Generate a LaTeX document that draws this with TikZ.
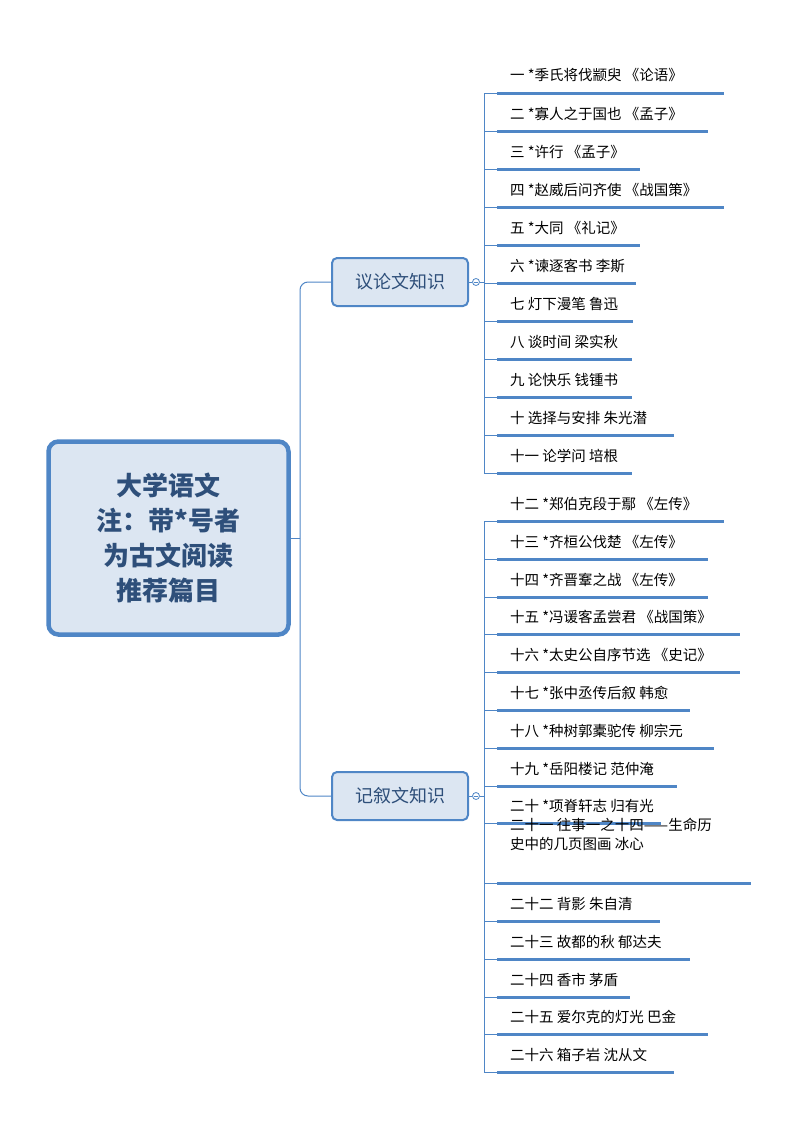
\documentclass[tikz,border=0pt]{standalone}
\usepackage{fontspec}
\setmainfont{Noto Sans CJK SC}
\begin{document}
\begin{tikzpicture}[x=1pt,y=-1pt,
  ln/.style={draw=lblue,line width=1pt},
  ul/.style={draw=lblue,line width=3pt},
  item/.style={anchor=base west,font=\fontsize{14.5}{19}\selectfont,text=black,inner sep=0pt,align=left},
  br/.style={draw=lblue,line width=2pt,fill=bfill,rounded corners=5pt,minimum width=136pt,minimum height=48pt,font=\fontsize{18}{22}\selectfont,text=tcol},
  rootbox/.style={draw=lblue,line width=4.5pt,fill=bfill,rounded corners=10pt,minimum width=240pt,minimum height=193pt,font=\bfseries\fontsize{26}{35}\selectfont,text=tcol,align=center}]
\definecolor{lblue}{HTML}{4F86C6}
\definecolor{bfill}{HTML}{DCE6F2}
\definecolor{tcol}{HTML}{2E4F7A}
\useasboundingbox (0,0) rectangle (800,1132);
\node[rootbox] (root) at (168.5,538) {大学语文\\注：带*号者\\为古文阅读\\推荐篇目};
\node[br] (b1) at (400,282) {议论文知识};
\node[br] (b2) at (400,796) {记叙文知识};
\coordinate (j) at (300,538);
\draw[ln] (root.east) -- (j);
\draw[ln,rounded corners=8pt] (j) |- (b1.west);
\draw[ln,rounded corners=8pt] (j) |- (b2.west);
\node[draw=lblue,fill=white,circle,inner sep=0pt,minimum size=7pt,line width=0.8pt] (c1) at (476,282) {};
\node[draw=lblue,fill=white,circle,inner sep=0pt,minimum size=7pt,line width=0.8pt] (c2) at (476,796) {};
\draw[ln] (b1.east) -- (c1.west);
\draw[ln] (b2.east) -- (c2.west);
\draw[line width=0.7pt,lblue] (c1.center)+(-2,0) -- +(2,0);
\draw[line width=0.7pt,lblue] (c2.center)+(-2,0) -- +(2,0);
\draw[ln] (c1.east) -- (484,282);
\draw[ln] (c2.east) -- (484,796);
% top group
\foreach \t/\y/\e [count=\i] in {
 {一 *季氏将伐颛臾 《论语》}/93/724,
 {二 *寡人之于国也 《孟子》}/131/708,
 {三 *许行 《孟子》}/169/640,
 {四 *赵威后问齐使 《战国策》}/207/724,
 {五 *大同 《礼记》}/245/640,
 {六 *谏逐客书 李斯}/283/636,
 {七 灯下漫笔 鲁迅}/321/633,
 {八 谈时间 梁实秋}/359/632,
 {九 论快乐 钱锺书}/397/632,
 {十 选择与安排 朱光潜}/435/674,
 {十一 论学问 培根}/473/632}{
 \coordinate (ta\i) at (484,\y);
 \draw[ln] (ta\i) -- (497,\y);
 \draw[ul] (497,\y) -- (\e,\y);
 \node[item] (a\i) at (510,\y-12) {\t};
}
\draw[ln] (ta1) -- (ta11);
% bottom group
\foreach \t/\y/\e [count=\i] in {
 {十二 *郑伯克段于鄢 《左传》}/521/724,
 {十三 *齐桓公伐楚 《左传》}/559/708,
 {十四 *齐晋鞌之战 《左传》}/597/708,
 {十五 *冯谖客孟尝君 《战国策》}/634/740,
 {十六 *太史公自序节选 《史记》}/672/740,
 {十七 *张中丞传后叙 韩愈}/710/690,
 {十八 *种树郭橐驼传 柳宗元}/748/714,
 {十九 *岳阳楼记 范仲淹}/786/677,
 {二十 *项脊轩志 归有光}/823/661,
 {二十二 背影 朱自清}/921/660,
 {二十三 故都的秋 郁达夫}/959/690,
 {二十四 香市 茅盾}/997/630,
 {二十五 爱尔克的灯光 巴金}/1034/708,
 {二十六 箱子岩 沈从文}/1072/674}{
 \coordinate (tb\i) at (484,\y);
 \draw[ln] (tb\i) -- (497,\y);
 \draw[ul] (497,\y) -- (\e,\y);
 \node[item] (b\i x) at (510,\y-12) {\t};
}
\coordinate (tk) at (484,883);
\draw[ln] (tk) -- (497,883);
\draw[ul] (497,883) -- (751,883);
\node[item] (b21) at (510,849) {二十一 往事一之十四——生命历\\史中的几页图画 冰心};
\draw[ln] (tb1) -- (tb14);
\end{tikzpicture}
\end{document}
